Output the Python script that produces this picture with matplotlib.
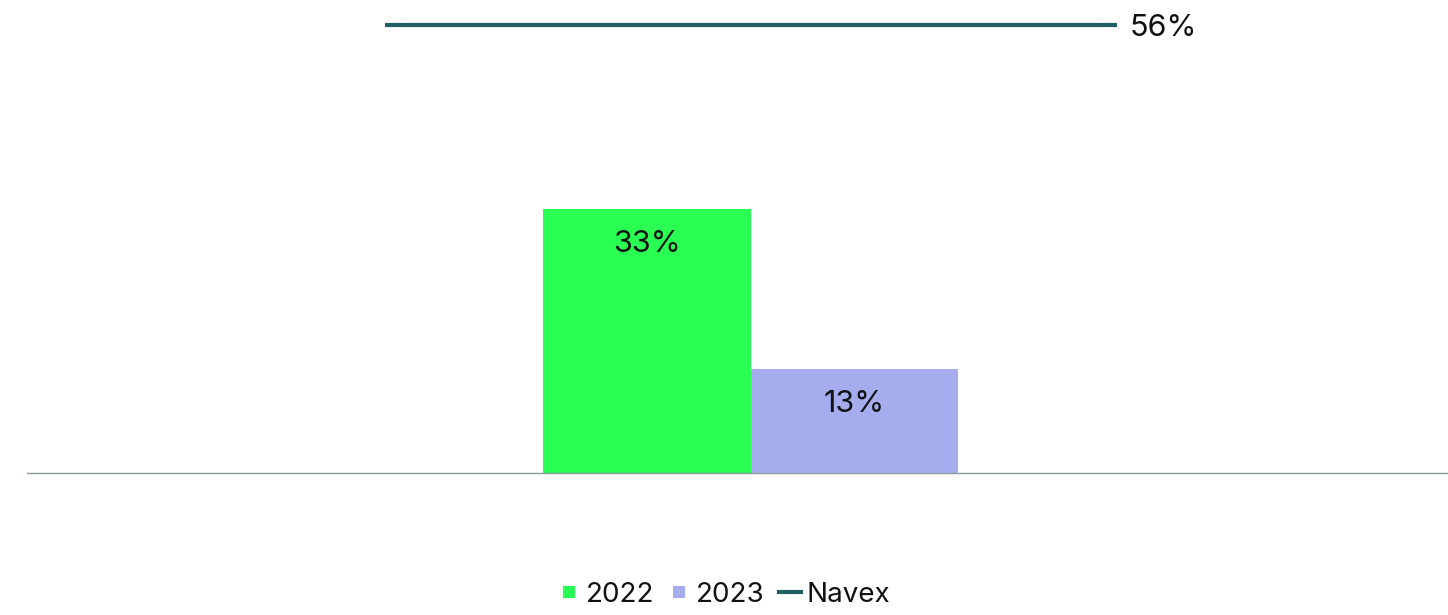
"""Clustered bars for 2022 / 2023 with a Navex benchmark line."""

import matplotlib

matplotlib.use("Agg")
import matplotlib.pyplot as plt
from matplotlib.lines import Line2D

plt.rcParams["font.family"] = ["Inter", "DejaVu Sans"]

SERIES = ["2022", "2023"]
VALUES = [33, 13]
BENCHMARK_LABEL = "Navex"
BENCHMARK_VALUE = 56

COLORS = {"2022": "#29FF52", "2023": "#A5ADEE"}
LINE_COLOR = "#1F5F63"
AXIS_COLOR = "#8A9A9E"
TEXT_COLOR = "#111111"

W, H = 1448, 615
fig = plt.figure(figsize=(W / 100, H / 100), dpi=100)
ax = fig.add_axes((27 / W, (H - 473) / H, 1421 / W, 473 / H))

bar_width = 0.25
offsets = [-bar_width / 2, bar_width / 2]
for name, value, off in zip(SERIES, VALUES, offsets):
    ax.bar(off, value, width=bar_width, color=COLORS[name], linewidth=0)
    ax.annotate(
        f"{value}%",
        xy=(off, value),
        xytext=(0, -25),
        textcoords="offset points",
        ha="center",
        va="center",
        fontsize=22,
        color=TEXT_COLOR,
    )

half_span = 0.441
ax.plot([-half_span, half_span], [BENCHMARK_VALUE, BENCHMARK_VALUE],
        color=LINE_COLOR, linewidth=3, solid_capstyle="butt")
ax.annotate(
    f"{BENCHMARK_VALUE}%",
    xy=(half_span, BENCHMARK_VALUE),
    xytext=(9, -2),
    textcoords="offset points",
    ha="left",
    va="center",
    fontsize=22,
    color=TEXT_COLOR,
)

ax.set_xlim(-0.872, 0.840)
ax.set_ylim(0, 473 / 8)
for side in ("top", "right", "left"):
    ax.spines[side].set_visible(False)
ax.spines["bottom"].set_color(AXIS_COLOR)
ax.spines["bottom"].set_linewidth(1)
ax.set_xticks([])
ax.set_yticks([])

handles = [
    Line2D([], [], color=COLORS["2022"], marker="s", markersize=8, markeredgewidth=0,
           linestyle="None", label="2022"),
    Line2D([], [], color=COLORS["2023"], marker="s", markersize=8, markeredgewidth=0,
           linestyle="None", label="2023"),
    Line2D([], [], color=LINE_COLOR, linewidth=3, label=BENCHMARK_LABEL),
]
fig.legend(
    handles=handles,
    loc="center",
    bbox_to_anchor=(724 / W, 1 - 595 / H),
    ncol=3,
    frameon=False,
    fontsize=20,
    handlelength=0.8,
    handletextpad=0.2,
    columnspacing=0.5,
    labelcolor=TEXT_COLOR,
)

fig.savefig("out.png", dpi=100)
